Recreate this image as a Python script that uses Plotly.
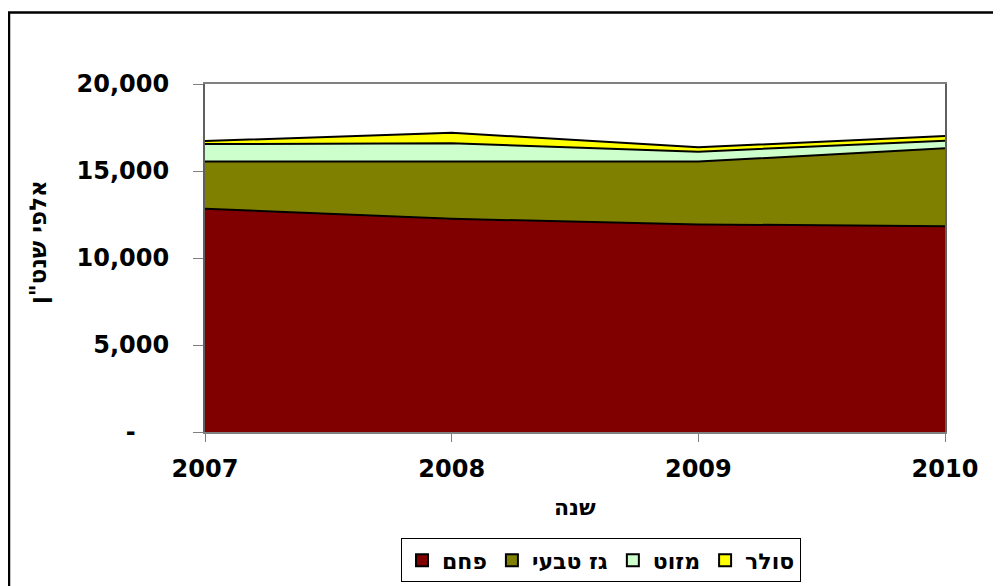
import plotly.graph_objects as go

# Years and fuel series (thousand units)
years = [2007, 2008, 2009, 2010]
coal = [12830, 12250, 11930, 11830]      # פחם
gas = [2710, 3290, 3610, 4480]           # גז טבעי
mazut = [1010, 1050, 570, 430]           # מזוט
solar = [170, 610, 250, 270]             # סולר

series_names = ["פחם", "גז טבעי", "מזוט", "סולר"]
series_colors = ["#800000", "#808000", "#CCFFCC", "#FFFF00"]
y_tickvals = [0, 5000, 10000, 15000, 20000]
# Excel accounting style: zero shown as a dash, padded
y_ticktext = ["-\u00a0\u00a0\u00a0\u00a0", "5,000", "10,000", "15,000", "20,000"]

NUM_FONT = "DejaVu Sans, Verdana, sans-serif"
HEB_FONT = "DejaVu Sans, Liberation Sans, sans-serif"

# plot area in screen pixels (page has an 8px body margin)
PL, PT, PW, PH = 197, 76, 740, 350


def px_x(x):
    return (x - 8 - PL) / PW


def px_y(y):
    return (PT + PH - (y - 8)) / PH


fig = go.Figure()

# stacked areas, each with a black outline on top
for name, vals, col in zip(series_names, [coal, gas, mazut, solar], series_colors):
    fig.add_trace(go.Scatter(
        x=years, y=vals, name=name, stackgroup="one", mode="lines",
        line=dict(color="black", width=2), fillcolor=col, showlegend=False,
        hoverinfo="x+y+name"
    ))

# legend entries as square markers (like the Excel legend)
for name, col in zip(series_names, series_colors):
    fig.add_trace(go.Scatter(
        x=[None], y=[None], name=name, mode="markers",
        marker=dict(symbol="square", size=13, color=col, line=dict(color="black", width=1.2))
    ))

fig.update_layout(
    width=1001, height=586,
    paper_bgcolor="white", plot_bgcolor="white",
    font=dict(family=NUM_FONT, color="black", size=24, weight="bold"),
    margin=dict(l=PL, r=1001 - PL - PW, t=PT, b=586 - PT - PH),
    showlegend=True,
    legend=dict(
        orientation="h", x=px_x(601), xanchor="center", y=px_y(541), yanchor="top",
        bordercolor="black", borderwidth=1, bgcolor="white",
        font=dict(size=22, family=HEB_FONT, weight="bold"),
        itemsizing="constant", traceorder="normal",
    ),
)

fig.update_xaxes(
    range=[2007, 2010], tickvals=years, ticks="outside", ticklen=8,
    tickcolor="#808080", showline=True, linecolor="#808080", linewidth=1.5,
    mirror=True, showgrid=False, zeroline=False, ticklabelstandoff=6,
    tickfont=dict(size=24, family=NUM_FONT, weight="bold"),
)
fig.update_yaxes(
    range=[0, 20000], tickvals=y_tickvals, ticktext=y_ticktext,
    ticks="outside", ticklen=10, tickcolor="#808080",
    showline=True, linecolor="#606060", linewidth=2, mirror=True,
    showgrid=False, zeroline=False, ticklabelstandoff=19,
    tickfont=dict(size=24, family=NUM_FONT, weight="bold"),
)

# axis titles as annotations
fig.add_annotation(
    text="שנה", showarrow=False, xref="paper", yref="paper",
    x=px_x(575), y=px_y(510), xanchor="center", yanchor="middle",
    font=dict(size=22, family=HEB_FONT, weight="bold"),
)
fig.add_annotation(
    text="אלפי שנט\"ן", textangle=-90, showarrow=False,
    xref="paper", yref="paper", x=px_x(38), y=px_y(243),
    xanchor="center", yanchor="middle",
    font=dict(size=23, family=HEB_FONT, weight="bold"),
)

# outer chart-area border (extends past right/bottom edge like the crop)
fig.add_shape(
    type="rect", xref="paper", yref="paper",
    x0=px_x(9), x1=px_x(1030), y0=px_y(620), y1=px_y(12),
    line=dict(color="black", width=2.5), fillcolor="rgba(0,0,0,0)", layer="below",
)

fig.write_html("out.html")
